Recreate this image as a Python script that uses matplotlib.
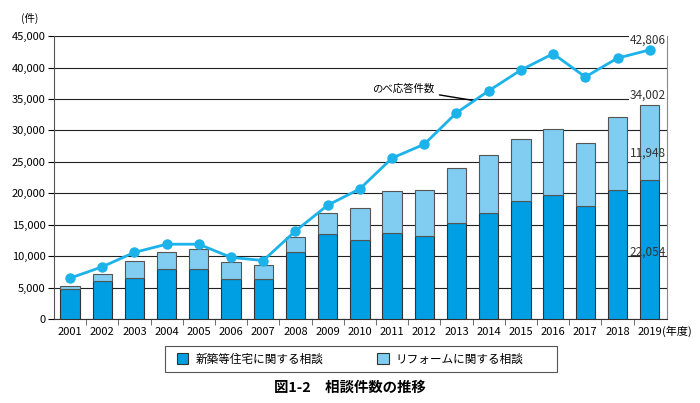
import numpy as np
import matplotlib.pyplot as plt
import matplotlib.transforms as mtransforms
from matplotlib.patches import Rectangle

plt.rcParams['font.family'] = ['Noto Sans CJK JP', 'DejaVu Sans']

# 年度ごとの相談件数
years = ['2001', '2002', '2003', '2004', '2005', '2006', '2007', '2008', '2009', '2010',
         '2011', '2012', '2013', '2014', '2015', '2016', '2017', '2018', '2019']
new_house = [4700, 6000, 6600, 8000, 7900, 6300, 6300, 10700, 13500, 12600,
             13700, 13200, 15200, 16800, 18800, 19700, 18000, 20500, 22054]
total = [5300, 7200, 9200, 10700, 11200, 9100, 8600, 13000, 16800, 17600,
         20400, 20500, 24100, 26100, 28600, 30200, 28000, 32200, 34002]
reform = [t - n for t, n in zip(total, new_house)]
responses = [6500, 8300, 10600, 11900, 11900, 9800, 9300, 14000, 18100, 20700,
             25600, 27800, 32800, 36300, 39600, 42200, 38500, 41500, 42806]

dark = '#009fe3'
light = '#80cdf1'
line_c = '#1cb2ea'

fig = plt.figure(figsize=(7, 4.03), dpi=100)
ax = fig.add_axes([0.077, 0.2084, 0.876, 0.702])

x = np.arange(len(years))
ax.bar(x, new_house, width=0.6, color=dark, edgecolor='#333333', linewidth=0.8,
       label='新築等住宅に関する相談', zorder=3)
ax.bar(x, reform, bottom=new_house, width=0.6, color=light, edgecolor='#555555', linewidth=0.8,
       label='リフォームに関する相談', zorder=3)
ax.plot(x, responses, color=line_c, lw=2, marker='o', ms=6.5, zorder=4)

ax.set_xlim(-0.5, 18.54)
ax.set_ylim(0, 45000)
ax.set_yticks(range(0, 45001, 5000))
ax.set_yticklabels([f'{v:,}' for v in range(0, 45001, 5000)], fontsize=8)
ax.grid(axis='y', color='#222222', lw=0.8, zorder=1)
ax.set_axisbelow(True)

# 目盛りは棒と棒の間に
ax.set_xticks(x)
ax.set_xticklabels(years, fontsize=8)
ax.tick_params(axis='x', length=0, pad=6)
ax.set_xticks(np.arange(0.5, 18, 1), minor=True)
ax.tick_params(axis='x', which='minor', length=4, direction='out', color='#555555')
ax.tick_params(axis='y', length=4, width=0.8, pad=2)
trans = mtransforms.blended_transform_factory(ax.transData, ax.transAxes)
ax.text(18.37, -0.0215, '(年度)', transform=trans, fontsize=8, va='top', ha='left')

ax.spines['top'].set_visible(False)
ax.spines['right'].set_color('#888888')
ax.spines['left'].set_color('#555555')
ax.spines['bottom'].set_color('#333333')

fig.text(0.03, 0.945, '(件)', fontsize=7.5)

# 数値ラベル
bbox = dict(facecolor='white', edgecolor='none', pad=0.5)
ax.text(18.5, 43300, '42,806', ha='right', va='bottom', fontsize=8.5, color='#333333', bbox=bbox)
ax.text(18.5, 34600, '34,002', ha='right', va='bottom', fontsize=8.5, color='#333333', bbox=bbox)
ax.text(18.5, 26400, '11,948', ha='right', va='center', fontsize=8.5, color='#333333', zorder=5)
ax.text(18.5, 10600, '22,054', ha='right', va='center', fontsize=8.5, color='#333333', zorder=5)

ax.annotate('のべ応答件数', xy=(12.6, 34700), xytext=(11.3, 36600), fontsize=7.5,
            ha='right', va='center',
            arrowprops=dict(arrowstyle='-', color='black', lw=1))

# 凡例（枠は別に描く）
leg = fig.legend(loc='center', bbox_to_anchor=(0.5, 0.109), ncol=2, fontsize=8.4,
                 frameon=False, handlelength=1.0, handleheight=1.0, columnspacing=4.6,
                 handletextpad=0.6, borderpad=0.3, borderaxespad=0)
for h in leg.legend_handles:
    h.set_edgecolor('#333333')
fig.patches.append(Rectangle((0.236, 0.077), 0.56, 0.0645, transform=fig.transFigure,
                             facecolor='none', edgecolor='#555555', lw=0.8))

fig.text(0.5, 0.028, '図1-2　相談件数の推移', ha='center', fontsize=10.4, fontweight='bold')

fig.savefig('out.png', dpi=100)
